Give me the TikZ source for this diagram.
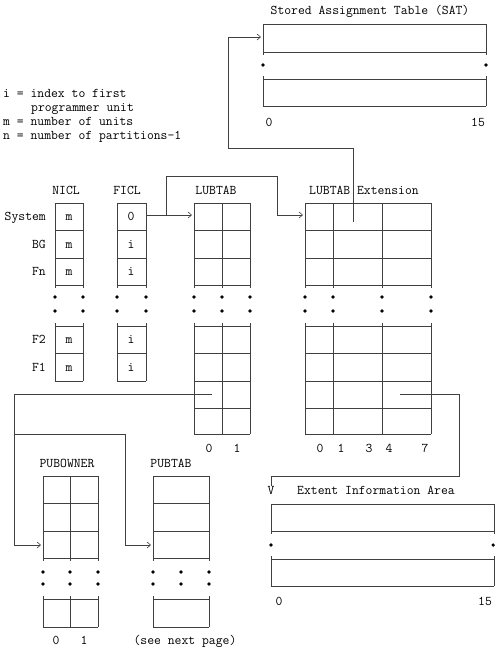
\documentclass[tikz,border=0pt]{standalone}
\usepackage{fontspec}
\usetikzlibrary{arrows.meta}
\begin{document}
\begin{tikzpicture}[x=1pt,y=-1pt,
  every node/.style={inner sep=0pt, text height=8pt, text depth=0pt, font=\ttfamily\fontsize{13.3}{15}\selectfont},
  grid/.style={line width=0.6pt, draw=black!75},
  conn/.style={line width=0.6pt, draw=black!75},
  ptr/.style={conn, -{Straight Barb[length=3.5pt,width=6pt,line width=0.6pt]}},
  dotm/.style={fill=black},
]
\useasboundingbox (0,0) rectangle (495,651);

% ---------- legend ----------
\node[anchor=west] (lg1) at (3,93) {i = index to first};
\node[anchor=west] (lg2) at (31,107) {programmer unit};
\node[anchor=west] (lg3) at (3,121) {m = number of units};
\node[anchor=west] (lg4) at (3,135) {n = number of partitions-1};

% ---------- SAT ----------
\node (sattitle) at (370,10) {Stored Assignment Table (SAT)};
\draw[grid] (263,24) -- (486,24) (263,52) -- (486,52)
            (263,24) -- (263,55) (486,24) -- (486,55)
            (263,79) -- (486,79) (263,106) -- (486,106)
            (263,76) -- (263,106) (486,76) -- (486,106);
\foreach \x in {263,486} \fill[dotm] (\x,65) circle (1.8pt);
\node (sat0) at (269,122) {0};
\node (sat15) at (478,122) {15};

% ---------- titles ----------
\node (nicl) at (66,190) {NICL};
\node (ficl) at (127,190) {FICL};
\node (lubtab) at (216,190) {LUBTAB};
\node[anchor=west] (lubext) at (309,190) {LUBTAB Extension};

% ---------- row labels ----------
\node[anchor=east] (rsys) at (46,216) {System};
\node[anchor=east] (rbg) at (46,244) {BG};
\node[anchor=east] (rfn) at (46,271) {Fn};
\node[anchor=east] (rf2) at (46,339) {F2};
\node[anchor=east] (rf1) at (46,367) {F1};

% ---------- NICL & FICL ----------
\foreach \l/\r in {55/83,117/146}{
  \foreach \y in {203,230,258,285} \draw[grid] (\l,\y) -- (\r,\y);
  \foreach \y in {326,353,381} \draw[grid] (\l,\y) -- (\r,\y);
  \foreach \x in {\l,\r}{
    \draw[grid] (\x,203) -- (\x,288);
    \draw[grid] (\x,323) -- (\x,381);
    \fill[dotm] (\x,297) circle (1.8pt);
    \fill[dotm] (\x,311) circle (1.8pt);
  }
}
\foreach \y/\n in {216/a,244/b,271/c,339/d,367/e} \node (nm\n) at (69,\y) {m};
\node (fz) at (131,216) {0};
\foreach \y/\n in {244/b,271/c,339/d,367/e} \node (fi\n) at (131,\y) {i};

% ---------- LUBTAB & extension ----------
\foreach \l/\r/\cols in {194/250/{194,222,250},305/431/{305,333,382,431}}{
  \foreach \y in {203,230,258,285} \draw[grid] (\l,\y) -- (\r,\y);
  \foreach \y in {326,353,381,408,434} \draw[grid] (\l,\y) -- (\r,\y);
  \foreach \x in \cols {
    \draw[grid] (\x,203) -- (\x,288);
    \draw[grid] (\x,323) -- (\x,434);
    \fill[dotm] (\x,297) circle (1.8pt);
    \fill[dotm] (\x,311) circle (1.8pt);
  }
}
\node (lb0) at (209,448) {0};
\node (lb1) at (237,448) {1};
\node (le0) at (320,448) {0};
\node (le1) at (341,448) {1};
\node (le3) at (369,448) {3};
\node (le4) at (389,448) {4};
\node (le7) at (425,448) {7};

% ---------- PUBOWNER & PUBTAB ----------
\node (pubowner) at (67,463) {PUBOWNER};
\node (pubtab) at (171,463) {PUBTAB};
\foreach \l/\r/\cols/\dcols in {43/98/{43,70,98}/{43,70,98},153/209/{153,209}/{153,181,209}}{
  \foreach \y in {476,503,531,558} \draw[grid] (\l,\y) -- (\r,\y);
  \foreach \y in {599,627} \draw[grid] (\l,\y) -- (\r,\y);
  \foreach \x in \cols {
    \draw[grid] (\x,476) -- (\x,561);
    \draw[grid] (\x,596) -- (\x,627);
  }
  \foreach \x in \dcols {
    \fill[dotm] (\x,572) circle (1.8pt);
    \fill[dotm] (\x,584) circle (1.8pt);
  }
}
\node (po0) at (56,640) {0};
\node (po1) at (84,640) {1};
\node (seenext) at (185,640) {(see next page)};

% ---------- Extent Information Area ----------
\node (vtip) at (271,490) {V};
\node (exttitle) at (376,490) {Extent Information Area};
\draw[grid] (271,504) -- (494,504) (271,531) -- (494,531)
            (271,504) -- (271,534) (494,504) -- (494,534)
            (271,559) -- (494,559) (271,586) -- (494,586)
            (271,556) -- (271,586) (494,556) -- (494,586);
\foreach \x in {271,493.2} \fill[dotm] (\x,545) circle (1.8pt);
\node (ext0) at (279,601) {0};
\node (ext15) at (485,601) {15};

% ---------- connectors ----------
\coordinate (ficlout) at (146,215);
\coordinate (j1) at (166,215);
\coordinate (lubin) at (192,215);
\coordinate (c1) at (166,176);
\coordinate (c2) at (277,176);
\coordinate (lubextin) at (303,215);
\draw[ptr] (ficlout) -- (lubin);
\draw[ptr] (j1) -- (c1) -- (c2) |- (lubextin);

\coordinate (extsrc) at (353,222);
\coordinate (c3) at (228,148);
\coordinate (satin) at (261,37);
\draw[ptr] (extsrc) |- (c3) |- (satin);

\coordinate (lubsrc) at (212,394);
\coordinate (c4) at (14,545);
\coordinate (pubownin) at (41,545);
\coordinate (j2) at (14,434);
\coordinate (c5) at (125,434);
\coordinate (pubtabin) at (151,545);
\draw[ptr] (lubsrc) -| (c4) -- (pubownin);
\draw[ptr] (j2) -- (c5) |- (pubtabin);

\coordinate (extsrc2) at (400,394);
\coordinate (c6) at (459,476);
\draw[conn] (extsrc2) -| (c6) -| (vtip.north);
\end{tikzpicture}
\end{document}
